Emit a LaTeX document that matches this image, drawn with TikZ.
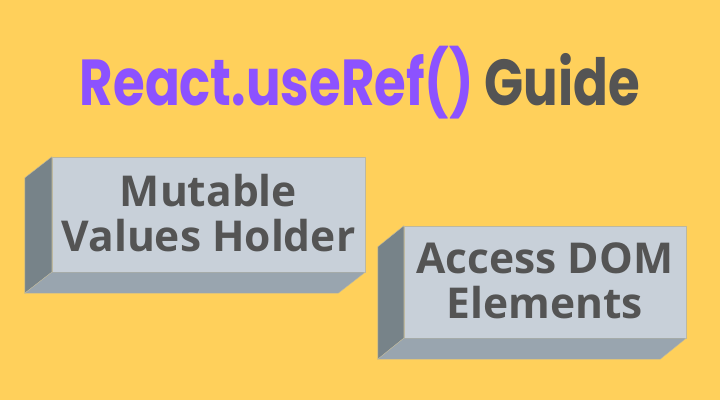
\documentclass[tikz,border=0pt]{standalone}
\usepackage{fontspec}
\usepackage{graphicx}
\newfontfamily\titlefont{Poppins}[UprightFont=* Bold]
\newfontfamily\boxfont{Open Sans}[UprightFont=* Bold]
\definecolor{bg}{HTML}{FFD05B}
\definecolor{purp}{HTML}{8C52FF}
\definecolor{dgray}{HTML}{545454}
\definecolor{frontc}{HTML}{C8D0D9}
\definecolor{leftc}{HTML}{778389}
\definecolor{botc}{HTML}{99A5AF}
\definecolor{edgec}{HTML}{BDB8A0}
\begin{document}
\begin{tikzpicture}[x=1pt,y=1pt,
  front/.style={fill=frontc, draw=edgec, line width=0.4pt, inner sep=0pt},
  boxtext/.style={text=dgray, font=\boxfont\fontsize{42.5}{45}\selectfont, align=center},
  leftface/.style={fill=leftc, draw=edgec, line width=0.4pt},
  botface/.style={fill=botc, draw=edgec, line width=0.4pt}]
\fill[bg] (0,0) rectangle (720,400);
\useasboundingbox (0,0) rectangle (720,400);
\node[anchor=base, font=\titlefont\fontsize{65}{65}\selectfont] (title) at (360,295)
  {\scalebox{0.79}[1]{\textcolor{purp}{React.useRef()} \textcolor{dgray}{Guide}}};
% box 1
\node[front, minimum width=313pt, minimum height=115pt] (b1) at (208.5,185.5) {};
\filldraw[leftface] (b1.north west) -- ++(-27,-21) -- ([xshift=-27pt,yshift=-21pt]b1.south west) -- (b1.south west) -- cycle;
\filldraw[botface] (b1.south west) -- ++(-27,-21) -- ([xshift=-27pt,yshift=-21pt]b1.south east) -- (b1.south east) -- cycle;
\node[boxtext] (t1) at ([yshift=1pt]b1.center) {Mutable\\Values Holder};
% box 2
\node[front, minimum width=282pt, minimum height=112pt] (b2) at (545,118) {};
\filldraw[leftface] (b2.north west) -- ++(-26,-21) -- ([xshift=-26pt,yshift=-21pt]b2.south west) -- (b2.south west) -- cycle;
\filldraw[botface] (b2.south west) -- ++(-26,-21) -- ([xshift=-26pt,yshift=-21pt]b2.south east) -- (b2.south east) -- cycle;
\node[boxtext] (t2) at ([yshift=1pt]b2.center) {Access DOM\\Elements};
\end{tikzpicture}
\end{document}
